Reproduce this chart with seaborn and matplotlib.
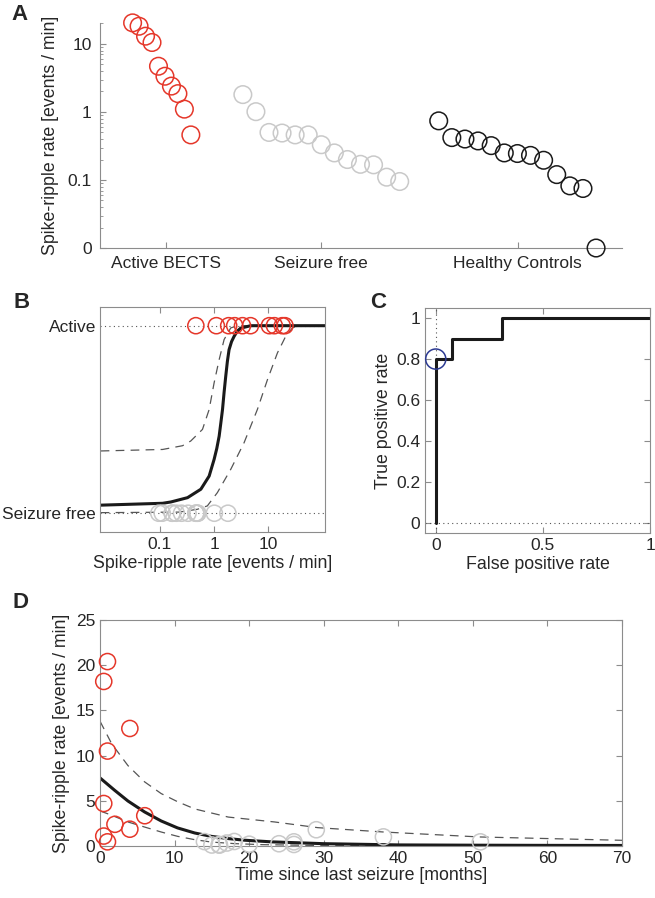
import numpy as np
import matplotlib
matplotlib.use("Agg")
import matplotlib.pyplot as plt
import seaborn as sns

# ---- data ----
# spike-ripple rates [events / min], sorted as in panel A
active_rates = [20.4, 18.2, 13.0, 10.5, 4.7, 3.35, 2.4, 1.86, 1.1, 0.46]
seizure_free_rates = [1.8, 1.01, 0.50, 0.49, 0.46, 0.46, 0.33, 0.25, 0.20, 0.17, 0.167, 0.11, 0.095]
control_rates = [0.74, 0.42, 0.40, 0.375, 0.32, 0.25, 0.245, 0.23, 0.195, 0.12, 0.082, 0.075, 0.0]
group_names = ["Active BECTS", "Seizure free", "Healthy Controls"]

# months since last seizure (same order as the rates)
active_months = [1, 0.5, 4, 1, 0.5, 6, 2, 4, 0.5, 1]
seizure_free_months = [29, 38, 18, 14, 51, 26, 17, 24, 20, 26, 16, 15, 16]

# panel B: logistic fit and bounds
fit_b_rate = [0.008, 0.112, 0.159, 0.323, 0.569, 0.81, 1.0, 1.12, 1.24, 1.33, 1.43, 1.53, 1.64, 1.76, 1.89, 2.1, 2.34, 2.7, 3.1, 4.75, 115]
fit_b_prob = [0.043, 0.053, 0.06, 0.083, 0.128, 0.198, 0.287, 0.345, 0.411, 0.48, 0.553, 0.645, 0.73, 0.81, 0.872, 0.915, 0.943, 0.972, 0.987, 1.0, 1.0]
upper_b_rate = [0.008, 0.112, 0.261, 0.37, 0.61, 0.81, 1.0, 1.24, 1.53, 2.03, 2.7, 115]
upper_b_prob = [0.332, 0.34, 0.36, 0.385, 0.447, 0.553, 0.695, 0.819, 0.926, 0.988, 1.0, 1.0]
lower_b_rate = [0.008, 0.226, 0.49, 0.75, 1.15, 2.03, 3.58, 6.3, 9.7, 14.8, 21.0, 28, 34.6, 115]
lower_b_prob = [0.003, 0.006, 0.021, 0.039, 0.11, 0.234, 0.376, 0.553, 0.713, 0.855, 0.943, 0.988, 1.0, 1.0]

# panel C: ROC curve
roc_fpr = [0, 0, 0.077, 0.077, 0.308, 0.308, 1.0]
roc_tpr = [0, 0.8, 0.8, 0.9, 0.9, 1.0, 1.0]
roc_point = (0.0, 0.8)

# panel D: decay fit and bounds
fit_d_month = [0, 1.95, 3.74, 5.97, 8.2, 10.4, 12.7, 14.9, 17.2, 19.4, 23.0, 29.9, 40, 50, 60, 70]
fit_d_rate = [7.53, 6.17, 4.98, 3.77, 2.77, 2.0, 1.44, 1.07, 0.82, 0.64, 0.46, 0.26, 0.12, 0.09, 0.07, 0.06]
upper_d_month = [0, 1.57, 3.74, 5.97, 8.2, 10.4, 12.7, 17.2, 23.4, 29.2, 38.0, 50.9, 70]
upper_d_rate = [13.8, 11.3, 8.9, 7.1, 5.8, 4.9, 4.1, 3.2, 2.66, 2.03, 1.55, 1.0, 0.63]
lower_d_month = [0, 1.57, 3.74, 5.97, 8.2, 10.4, 12.7, 14.9, 18.1, 21.7, 30, 70]
lower_d_rate = [3.88, 3.4, 2.66, 2.1, 1.55, 1.07, 0.7, 0.44, 0.26, 0.15, 0.05, 0.0]

RED = "#e5372a"
GREY = "#c9c9c9"
BLACK = "#1a1a1a"
SPINE = "#8c8c8c"
DASH = "#555555"

sns.set_style("ticks")
plt.rcParams["font.family"] = ["Liberation Sans", "DejaVu Sans"]
plt.rcParams["font.size"] = 12.5
plt.rcParams["xtick.direction"] = "in"
plt.rcParams["ytick.direction"] = "in"
plt.rcParams["xtick.labelsize"] = 12.5
plt.rcParams["ytick.labelsize"] = 12.5
plt.rcParams["axes.labelsize"] = 12.8

fig = plt.figure(figsize=(6.55, 8.98), dpi=100)
ax_a = fig.add_axes([0.1527, 0.7238, 0.7970, 0.2509])
ax_b = fig.add_axes([0.1527, 0.4076, 0.3435, 0.2506])
ax_c = fig.add_axes([0.6489, 0.4065, 0.3435, 0.2506])
ax_d = fig.add_axes([0.1527, 0.0579, 0.7970, 0.2517])

msize = 135


def open_circles(ax, x, y, color, s=msize, lw=1.1):
    sns.scatterplot(x=x, y=y, ax=ax, s=s, marker="o", facecolors="none",
                    edgecolor=color, linewidth=lw, legend=False, zorder=3,
                    clip_on=False)


def style_box(ax):
    for sp in ax.spines.values():
        sp.set_visible(True)
        sp.set_color(SPINE)
        sp.set_linewidth(0.8)
    ax.tick_params(which="both", top=True, right=True, color=SPINE)
    ax.tick_params(which="major", length=4)
    ax.tick_params(which="minor", length=2)


# ---- A ----
x_active = 31.8 + 1.55 * np.arange(len(active_rates))
x_sf = 58.2 + 3.13 * np.arange(len(seizure_free_rates))
x_hc = 105.1 + 3.14 * np.arange(len(control_rates))
floor = 0.01  # zero plotted at the bottom of the log axis
open_circles(ax_a, x_active, np.maximum(active_rates, floor), RED, s=160)
open_circles(ax_a, x_sf, np.maximum(seizure_free_rates, floor), GREY, s=160)
open_circles(ax_a, x_hc, np.maximum(control_rates, floor), BLACK, s=160)
ax_a.set_yscale("log")
ax_a.set_ylim(floor, 20.5)
ax_a.set_xlim(24, 149)
ax_a.set_yticks([0.01, 0.1, 1, 10])
ax_a.set_yticklabels(["0", "0.1", "1", "10"])
ax_a.set_xticks([39.7, 77.0, 124.0])
ax_a.set_xticklabels(group_names)
ax_a.set_ylabel("Spike-ripple rate [events / min]", labelpad=6)
sns.despine(ax=ax_a)
for sp in ["left", "bottom"]:
    ax_a.spines[sp].set_color(SPINE)
    ax_a.spines[sp].set_linewidth(0.8)
ax_a.tick_params(which="both", color=SPINE)
ax_a.tick_params(which="major", length=4, pad=6)
ax_a.tick_params(which="minor", length=2)

# ---- B ----
ax_b.axhline(1, color=DASH, lw=0.8, ls=(0, (1, 3)), zorder=1)
ax_b.axhline(0, color=DASH, lw=0.8, ls=(0, (1, 3)), zorder=1)
sns.lineplot(x=upper_b_rate, y=upper_b_prob, ax=ax_b, color=DASH, lw=0.9,
             ls=(0, (7, 5)), estimator=None, sort=False)
sns.lineplot(x=lower_b_rate, y=lower_b_prob, ax=ax_b, color=DASH, lw=0.9,
             ls=(0, (7, 5)), estimator=None, sort=False)
sns.lineplot(x=fit_b_rate, y=fit_b_prob, ax=ax_b, color=BLACK, lw=2.2,
             estimator=None, sort=False)
open_circles(ax_b, active_rates, np.ones(len(active_rates)), RED)
open_circles(ax_b, seizure_free_rates, np.zeros(len(seizure_free_rates)), GREY)
ax_b.set_xscale("log")
ax_b.set_xlim(0.0078, 112)
ax_b.set_ylim(-0.1, 1.1)
ax_b.set_xticks([0.1, 1, 10])
ax_b.set_xticklabels(["0.1", "1", "10"])
ax_b.set_yticks([0, 1])
ax_b.set_yticklabels(["Seizure free", "Active"])
ax_b.set_xlabel("Spike-ripple rate [events / min]", labelpad=2)
style_box(ax_b)
ax_b.tick_params(axis="y", length=0, pad=3)

# ---- C ----
ax_c.axvline(0, color=DASH, lw=0.8, ls=(0, (1, 3)), zorder=1)
ax_c.axhline(0, color=DASH, lw=0.8, ls=(0, (1, 3)), zorder=1)
sns.lineplot(x=roc_fpr, y=roc_tpr, ax=ax_c, color=BLACK, lw=2.2,
             estimator=None, sort=False)
open_circles(ax_c, [roc_point[0]], [roc_point[1]], "#2c3a92", s=210)
ax_c.set_xlim(-0.05, 1.0)
ax_c.set_ylim(-0.05, 1.05)
ax_c.set_xticks([0, 0.5, 1])
ax_c.set_xticklabels(["0", "0.5", "1"])
ax_c.set_yticks([0, 0.2, 0.4, 0.6, 0.8, 1])
ax_c.set_yticklabels(["0", "0.2", "0.4", "0.6", "0.8", "1"])
ax_c.set_xlabel("False positive rate", labelpad=2)
ax_c.set_ylabel("True positive rate", labelpad=3)
style_box(ax_c)

# ---- D ----
sns.lineplot(x=upper_d_month, y=upper_d_rate, ax=ax_d, color=DASH, lw=0.9,
             ls=(0, (7, 5)), estimator=None, sort=False)
sns.lineplot(x=lower_d_month, y=lower_d_rate, ax=ax_d, color=DASH, lw=0.9,
             ls=(0, (7, 5)), estimator=None, sort=False)
sns.lineplot(x=fit_d_month, y=fit_d_rate, ax=ax_d, color=BLACK, lw=2.2,
             estimator=None, sort=False)
open_circles(ax_d, seizure_free_months, seizure_free_rates, GREY)
open_circles(ax_d, active_months, active_rates, RED)
ax_d.set_xlim(0, 70)
ax_d.set_ylim(0, 25)
ax_d.set_xticks(range(0, 71, 10))
ax_d.set_yticks(range(0, 26, 5))
ax_d.set_xlabel("Time since last seizure [months]", labelpad=1)
ax_d.set_ylabel("Spike-ripple rate [events / min]", labelpad=4)
style_box(ax_d)

# panel letters
for lab, (px, py) in {"A": (20, 15), "B": (22, 302), "C": (378, 302), "D": (20, 603)}.items():
    fig.text(px / 655, 1 - py / 898, lab, fontsize=16, fontweight="bold",
             ha="center", va="center")

fig.savefig("out.png", dpi=100, facecolor="white")
